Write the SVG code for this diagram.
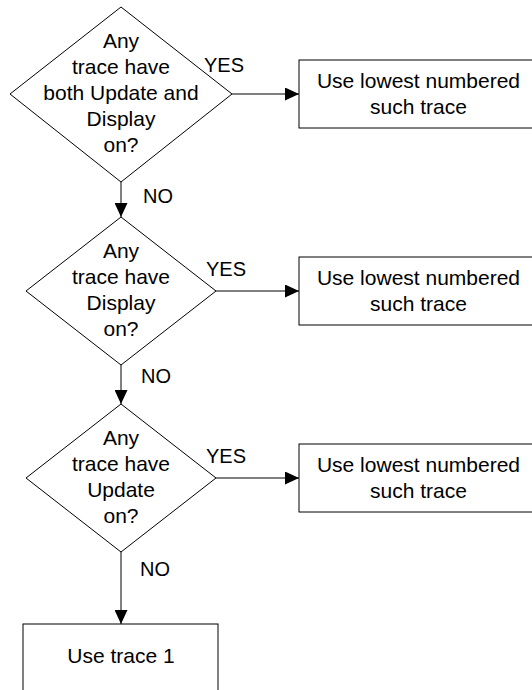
<svg xmlns="http://www.w3.org/2000/svg" width="532" height="690" viewBox="0 0 532 690">
<style>
.shape{fill:#fff;stroke:#000;stroke-width:1}
.line{fill:none;stroke:#000;stroke-width:1}
text{font-family:"Liberation Sans",Arial,sans-serif;font-size:21px;fill:#000}
.c{text-anchor:middle}
.lbl{font-size:20px}
</style>
<defs>
<marker id="arr" viewBox="0 0 14 13" refX="14" refY="6.5" markerWidth="14" markerHeight="13" markerUnits="userSpaceOnUse" orient="auto">
<path d="M0,0 L14,6.5 L0,13 Z" fill="#000"/>
</marker>
</defs>
<rect width="532" height="690" fill="#fff"/>
<g id="connectors">
<line class="line" x1="232" y1="94" x2="299" y2="94" marker-end="url(#arr)"/>
<line class="line" x1="121" y1="182" x2="121" y2="217" marker-end="url(#arr)"/>
<line class="line" x1="216" y1="291" x2="299" y2="291" marker-end="url(#arr)"/>
<line class="line" x1="121" y1="365" x2="121" y2="404" marker-end="url(#arr)"/>
<line class="line" x1="216" y1="478" x2="299" y2="478" marker-end="url(#arr)"/>
<line class="line" x1="121" y1="552" x2="121" y2="624" marker-end="url(#arr)"/>
<text class="lbl" x="204" y="72">YES</text>
<text class="lbl" x="143" y="203">NO</text>
<text class="lbl" x="206" y="276">YES</text>
<text class="lbl" x="141" y="383">NO</text>
<text class="lbl" x="206" y="463">YES</text>
<text class="lbl" x="140" y="576">NO</text>
</g>
<g id="decision1">
<polygon class="shape" points="121,7 232,94 121,182 10,94"/>
<text class="c" x="121" y="48">Any</text>
<text class="c" x="121" y="74">trace have</text>
<text class="c" x="121" y="100">both Update and</text>
<text class="c" x="121" y="126">Display</text>
<text class="c" x="121" y="152">on?</text>
</g>
<g id="box1">
<rect class="shape" x="299" y="60" width="240" height="68"/>
<text class="c" x="418.5" y="88">Use lowest numbered</text>
<text class="c" x="418.5" y="114">such trace</text>
</g>
<g id="decision2">
<polygon class="shape" points="121,217 216,291 121,365 26,291"/>
<text class="c" x="121" y="258">Any</text>
<text class="c" x="121" y="284">trace have</text>
<text class="c" x="121" y="310">Display</text>
<text class="c" x="121" y="336">on?</text>
</g>
<g id="box2">
<rect class="shape" x="299" y="257" width="240" height="68"/>
<text class="c" x="418.5" y="285">Use lowest numbered</text>
<text class="c" x="418.5" y="311">such trace</text>
</g>
<g id="decision3">
<polygon class="shape" points="121,404 216,478 121,552 26,478"/>
<text class="c" x="121" y="445">Any</text>
<text class="c" x="121" y="471">trace have</text>
<text class="c" x="121" y="497">Update</text>
<text class="c" x="121" y="523">on?</text>
</g>
<g id="box3">
<rect class="shape" x="299" y="444" width="240" height="68"/>
<text class="c" x="418.5" y="472">Use lowest numbered</text>
<text class="c" x="418.5" y="498">such trace</text>
</g>
<g id="box4">
<rect class="shape" x="23" y="624" width="195" height="80"/>
<text class="c" x="121" y="663">Use trace 1</text>
</g>
</svg>
